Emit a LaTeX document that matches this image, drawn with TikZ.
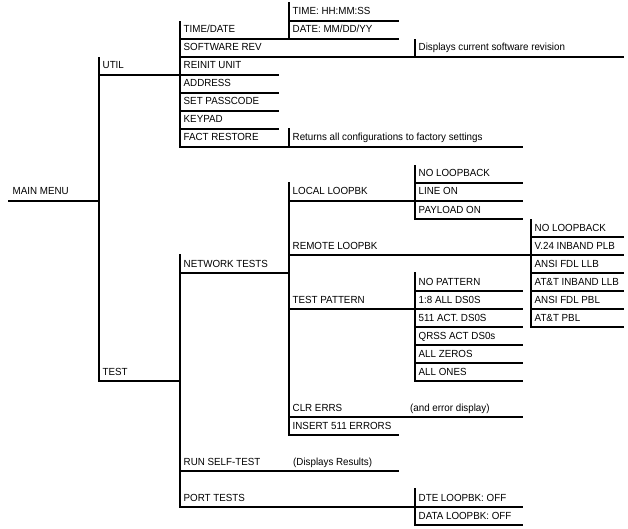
\documentclass[tikz,border=0pt]{standalone}
\usepackage{fontspec}
\setmainfont{Liberation Sans}[FakeStretch=0.95]
\tikzset{
  ln/.style={line width=1.8pt, line cap=rect},
  lbl/.style={anchor=base west, inner sep=0pt, font=\fontsize{10.3}{12}\selectfont},
}
% #1 name, #2 x of parent vertical, #3 y of underline, #4 x of line end, #5 text
\newcommand\menuentry[5]{%
  \coordinate (#1-a) at (#2,#3);
  \coordinate (#1-b) at (#4,#3);
  \node[lbl] (#1) at (#2+3.5,#3-6) {#5};
  \draw[ln] (#1-a) -- (#1-b);
}
% #1 name, #2 x, #3 top y, #4 bottom y
\newcommand\menuvert[4]{%
  \coordinate (#1-top) at (#2,#3);
  \coordinate (#1-bot) at (#2,#4);
  \draw[ln] (#1-top) -- (#1-bot);
}
\begin{document}
\begin{tikzpicture}[x=1pt,y=-1pt]
\useasboundingbox (0,0) rectangle (628,529);
% level 0
\menuentry{main}{9}{201}{99}{MAIN MENU}
% level 1
\menuvert{v1}{99}{58}{381}
\menuentry{util}{99}{75}{180}{UTIL}
\menuentry{test}{99}{381}{180}{TEST}
% UTIL children
\menuvert{vutil}{180}{22}{147}
\menuentry{timedate}{180}{39}{289}{TIME/DATE}
\menuentry{swrev}{180}{57}{623}{SOFTWARE REV}
\menuentry{reinit}{180}{75}{278}{REINIT UNIT}
\menuentry{address}{180}{93}{278}{ADDRESS}
\menuentry{passcode}{180}{111}{278}{SET PASSCODE}
\menuentry{keypad}{180}{129}{278}{KEYPAD}
\menuentry{fact}{180}{147}{289}{FACT RESTORE}
% TIME/DATE children
\menuvert{vtime}{289}{3}{39}
\menuentry{time}{289}{21}{398}{TIME: HH:MM:SS}
\menuentry{date}{289}{39}{398}{DATE: MM/DD/YY}
% SOFTWARE REV
\menuvert{vsw}{415}{40}{57}
\menuentry{swdesc}{415}{57}{623}{Displays current software revision}
% FACT RESTORE
\menuvert{vfact}{289}{129}{147}
\menuentry{factdesc}{289}{147}{522}{Returns all configurations to factory settings}
% TEST children
\menuvert{vtest}{180}{255}{507}
\menuentry{net}{180}{273}{289}{NETWORK TESTS}
\menuentry{selftest}{180}{471}{398}{RUN SELF-TEST}
\node[lbl] (selftestnote) at (293,465) {(Displays Results)};
\menuentry{port}{180}{507}{415}{PORT TESTS}
% PORT TESTS children
\menuvert{vport}{415}{489}{525}
\menuentry{dte}{415}{507}{522}{DTE LOOPBK: OFF}
\menuentry{data}{415}{525}{522}{DATA LOOPBK: OFF}
% NETWORK TESTS children
\menuvert{vnet}{289}{183}{435}
\menuentry{local}{289}{201}{415}{LOCAL LOOPBK}
\menuentry{remote}{289}{255}{531}{REMOTE LOOPBK}
\menuentry{pattern}{289}{309}{415}{TEST PATTERN}
\menuentry{clr}{289}{417}{522}{CLR ERRS}
\node[lbl] (clrnote) at (410,411) {(and error display)};
\menuentry{insert}{289}{435}{398}{INSERT 511 ERRORS}
% LOCAL LOOPBK children
\menuvert{vlocal}{415}{166}{219}
\menuentry{lnone}{415}{183}{522}{NO LOOPBACK}
\menuentry{lline}{415}{201}{522}{LINE ON}
\menuentry{lpay}{415}{219}{522}{PAYLOAD ON}
% REMOTE LOOPBK children
\menuvert{vremote}{531}{220}{327}
\menuentry{rnone}{531}{237}{623}{NO LOOPBACK}
\menuentry{rv24}{531}{255}{623}{V.24 INBAND PLB}
\menuentry{rafl}{531}{273}{623}{ANSI FDL LLB}
\menuentry{ratl}{531}{291}{623}{AT\&T INBAND LLB}
\menuentry{rafp}{531}{309}{623}{ANSI FDL PBL}
\menuentry{ratp}{531}{327}{623}{AT\&T PBL}
% TEST PATTERN children
\menuvert{vpat}{415}{273}{381}
\menuentry{pnone}{415}{291}{522}{NO PATTERN}
\menuentry{p18}{415}{309}{522}{1:8 ALL DS0S}
\menuentry{p511}{415}{327}{522}{511 ACT. DS0S}
\menuentry{pqrss}{415}{345}{522}{QRSS ACT DS0s}
\menuentry{pzero}{415}{363}{522}{ALL ZEROS}
\menuentry{pones}{415}{381}{522}{ALL ONES}
\end{tikzpicture}
\end{document}
